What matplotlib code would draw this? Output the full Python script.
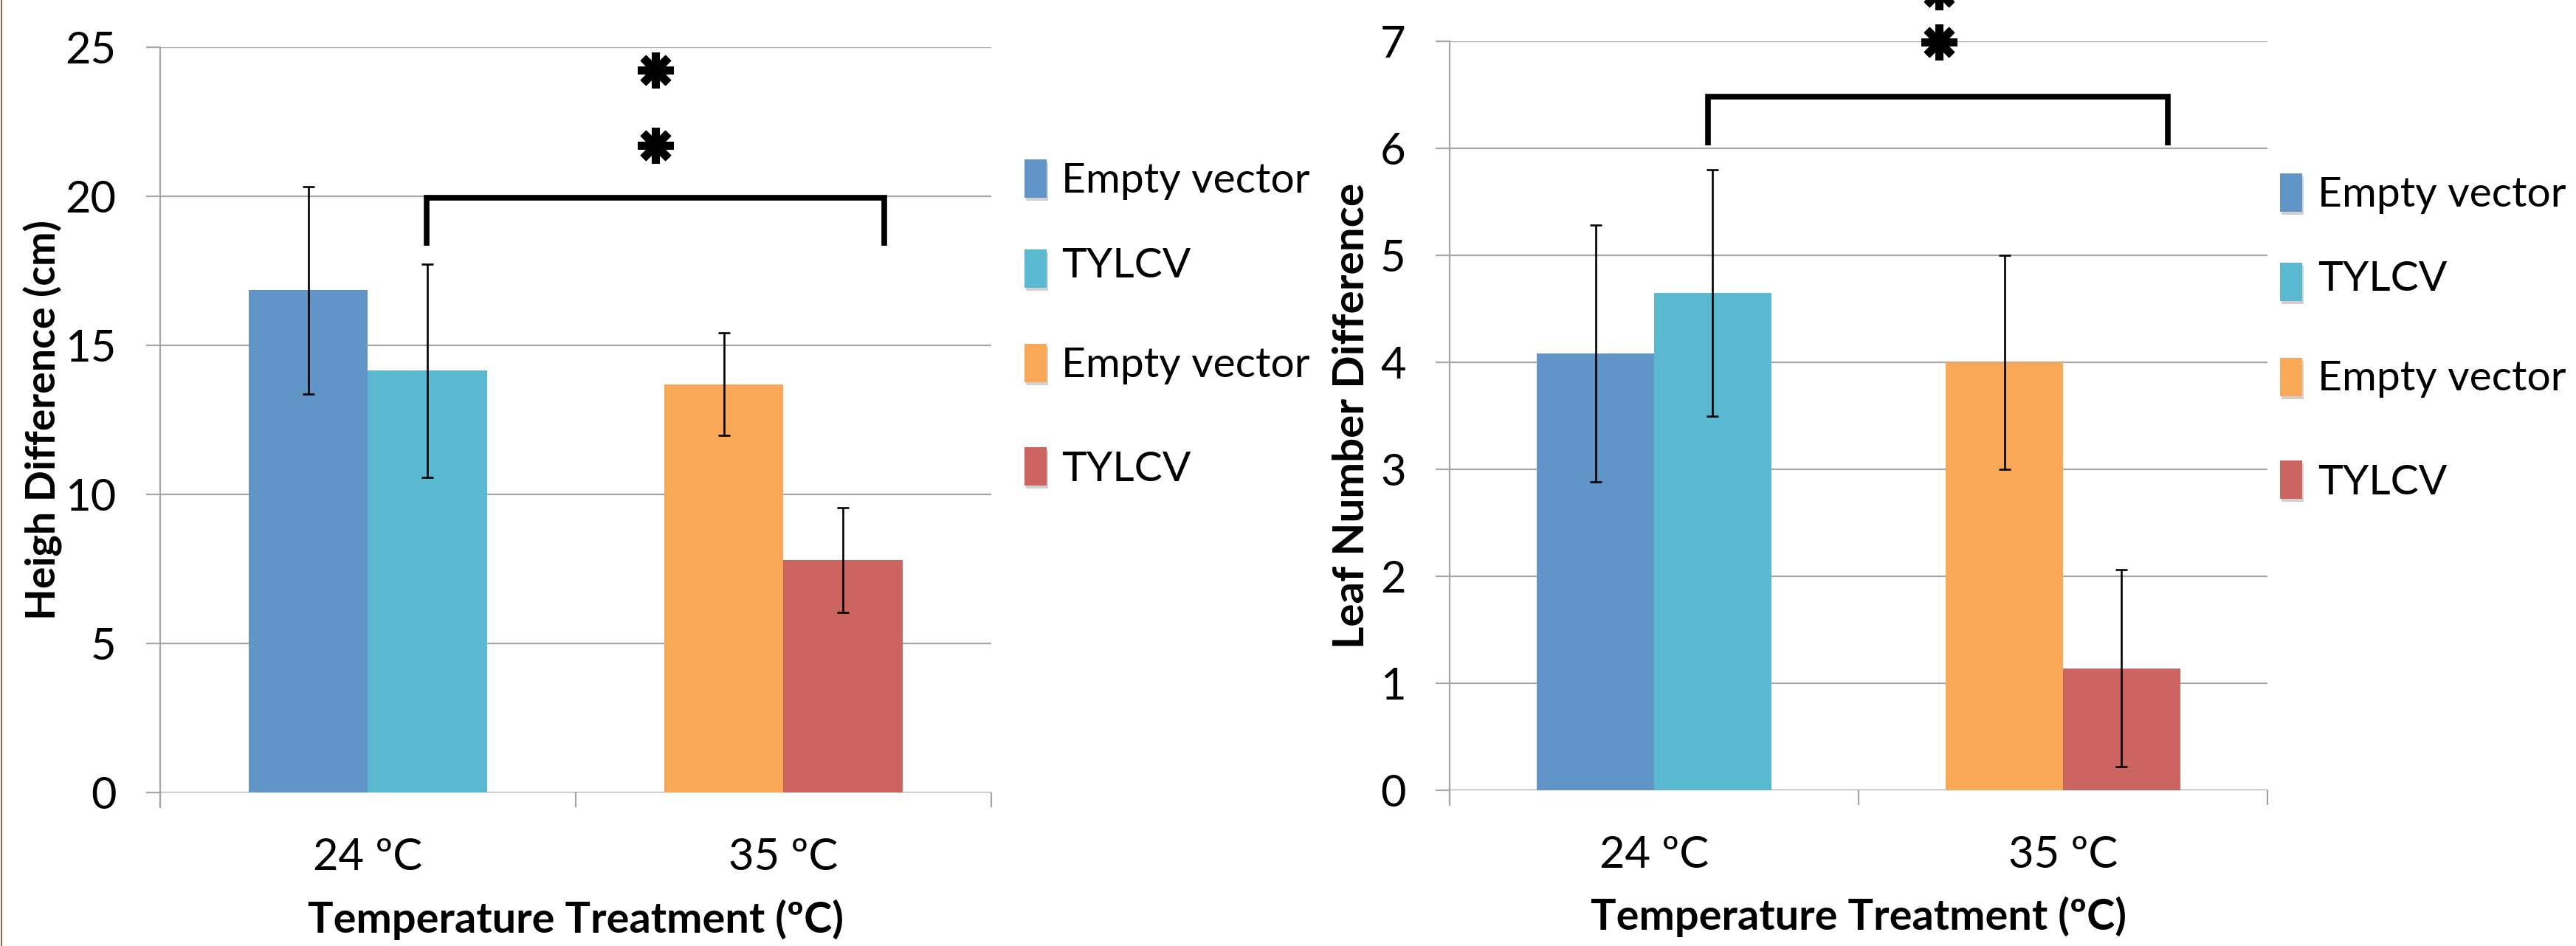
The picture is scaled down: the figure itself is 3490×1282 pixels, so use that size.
"""Height and leaf number difference bar charts, 24 vs 35 ºC, empty vector vs TYLCV."""

import matplotlib
matplotlib.use("Agg")
import matplotlib.pyplot as plt
from matplotlib.markers import MarkerStyle
from matplotlib.patches import Rectangle

# --- Data ---
categories = ["24 ºC", "35 ºC"]
legend_labels = ["Empty vector", "TYLCV", "Empty vector", "TYLCV"]

# order: 24 ºC empty vector, 24 ºC TYLCV, 35 ºC empty vector, 35 ºC TYLCV
height_diff = [16.85, 14.15, 13.70, 7.80]
height_err = [3.48, 3.58, 1.71, 1.76]

leaf_diff = [4.08, 4.65, 4.00, 1.14]
leaf_err = [1.20, 1.15, 1.00, 0.92]

# significance brackets: (x start, x end, top, leg bottom), star positions
height_bracket = (0.141, 1.242, 19.95, 18.33)
height_stars_x = [0.692, 0.692]
height_stars_y = [21.7, 24.23]

leaf_bracket = (0.132, 1.256, 6.48, 6.03)
leaf_stars_x = [0.697, 0.697]
leaf_stars_y = [6.99, 7.46]

# --- Style ---
W, H = 3491, 1282
DPI = 100
FONT = "Lato"
COLORS = ["#6195C8", "#5BB8D1", "#F9A857", "#CC6560"]
GRID = "#A6A6A6"
BAR_W = 0.287
PX = 72 / DPI  # points per pixel

plt.rcParams["font.family"] = [FONT, "DejaVu Sans"]

fig = plt.figure(figsize=(W / DPI, H / DPI), dpi=DPI)
fig.patch.set_facecolor("white")

# brown edge strip on the far left
fig.add_artist(Rectangle((1 / W, 0), 2.5 / W, 1, transform=fig.transFigure,
                         facecolor="#8E6B4F", edgecolor="none"))


def axes_from_px(left, top, right, bottom):
    return fig.add_axes([left / W, 1 - bottom / H, (right - left) / W,
                         (bottom - top) / H])


def draw_panel(ax, vals, errs, ymax, ystep, ylabel, ylab_size, bracket, sx,
               sy, xlab_y, ylab_x):
    xpos = [-BAR_W / 2, BAR_W / 2, 1 - BAR_W / 2, 1 + BAR_W / 2]
    ax.bar(xpos, vals, width=BAR_W, color=COLORS, zorder=2)
    ax.errorbar(xpos, vals, yerr=errs, fmt="none", ecolor="black",
                elinewidth=1.9, capsize=5.8, capthick=1.9, zorder=3)

    ax.set_xlim(-0.5, 1.5)
    ax.set_ylim(0, ymax)
    ax.set_yticks(range(0, ymax + 1, ystep))
    ax.yaxis.grid(True, color=GRID, lw=1.6, zorder=0)
    ax.set_axisbelow(True)
    for s in ["top", "right", "bottom"]:
        ax.spines[s].set_visible(False)
    ax.spines["left"].set_color(GRID)
    ax.spines["left"].set_linewidth(1.6)
    ax.spines["left"].set_bounds(-ymax * 0.0195, ymax)

    ax.tick_params(axis="y", direction="out", length=19 * PX, width=1.6,
                   color=GRID, pad=29, labelsize=43)
    ax.set_xticks([0, 1])
    ax.set_xticklabels(categories)
    ax.set_xticks([-0.5, 0.5, 1.5], minor=True)
    ax.tick_params(axis="x", which="major", length=0, pad=44, labelsize=43)
    ax.tick_params(axis="x", which="minor", direction="out",
                   length=20 * PX, width=1.6, color=GRID)

    ax.set_xlabel("Temperature Treatment (ºC)", fontsize=41.5,
                  fontweight="bold", va="center")
    ax.xaxis.set_label_coords(0.5, xlab_y)
    ax.set_ylabel(ylabel, fontsize=ylab_size, fontweight="bold", va="center",
                  ha="center")
    ax.yaxis.set_label_coords(ylab_x, 0.5)

    x0, x1, top, bot = bracket
    ax.plot([x0, x0, x1, x1], [bot, top, top, bot], color="black", lw=5.5,
            solid_joinstyle="miter", solid_capstyle="butt", clip_on=False,
            zorder=4)
    star = MarkerStyle((8, 2, 0), capstyle="round")
    ax.plot(sx, sy, ls="none", marker=star, ms=48 * PX, mew=11 * PX,
            color="black", clip_on=False, zorder=4)


ax1 = axes_from_px(217, 64, 1343, 1074)
draw_panel(ax1, height_diff, height_err, 25, 5, "Heigh Difference (cm)", 40,
           height_bracket, height_stars_x, height_stars_y, -0.171, -0.141)

ax2 = axes_from_px(1964, 56, 3072, 1071)
draw_panel(ax2, leaf_diff, leaf_err, 7, 1, "Leaf Number Difference", 42,
           leaf_bracket, leaf_stars_x, leaf_stars_y, -0.169, -0.12)


# --- Legends (drawn by hand, spacing is uneven in the original) ---
def draw_legend(rect_x, rect_tops, text_x, text_mid):
    for lab, col, top, mid in zip(legend_labels, COLORS, rect_tops, text_mid):
        fig.add_artist(Rectangle(((rect_x + 2) / W, 1 - (top + 56) / H),
                                 30 / W, 52 / H, transform=fig.transFigure,
                                 facecolor="#9a9a9a", edgecolor="none",
                                 alpha=0.45))
        fig.add_artist(Rectangle((rect_x / W, 1 - (top + 52) / H), 30 / W,
                                 52 / H, transform=fig.transFigure,
                                 facecolor=col, edgecolor="none"))
        fig.text(text_x / W, 1 - (mid + 20) / H, lab, fontsize=41,
                 va="baseline", ha="left")


draw_legend(1388, [216, 338, 466, 606], 1438, [241, 356, 491, 632])
draw_legend(3089, [235, 356, 485, 624], 3140, [260, 374, 509, 650])

fig.savefig("out.png", dpi=DPI, facecolor="white")
plt.close(fig)
